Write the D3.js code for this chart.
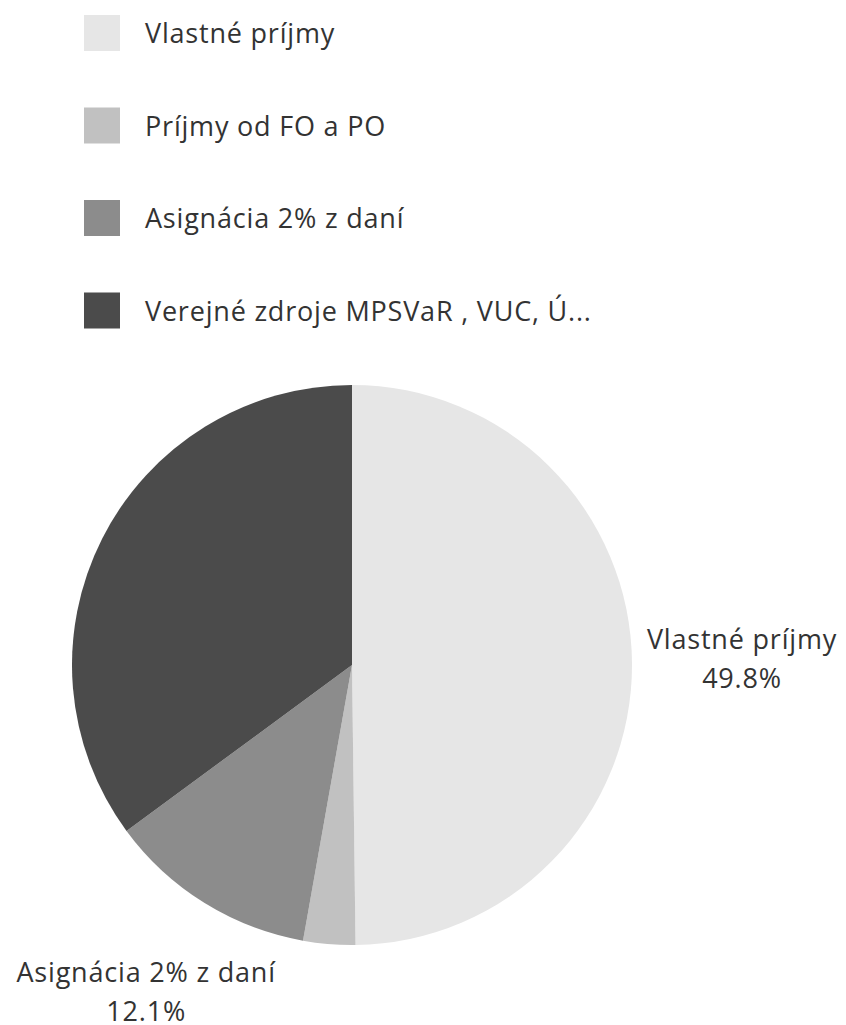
<!DOCTYPE html>
<html>
<head>
<meta charset="utf-8">
<script src="https://cdn.jsdelivr.net/npm/d3@7"></script>
<style>
  html, body { margin: 0; padding: 0; background: #ffffff; }
  svg text { font-family: "Open Sans", Lato, sans-serif; fill: #333333; letter-spacing: 0.8px; }
</style>
</head>
<body>
<svg id="chart" width="846" height="1025"></svg>
<script>
// Data
const categories = ["Vlastné príjmy", "Príjmy od FO a PO", "Asignácia 2% z daní", "Verejné zdroje MPSVaR , VUC, Ú..."];
const values = [49.8, 3.0, 12.1, 35.1];
const colors = ["#e6e6e6", "#c1c1c1", "#8c8c8c", "#4b4b4b"];
const labelledSlices = ["Vlastné príjmy", "Asignácia 2% z daní"];

const svg = d3.select("#chart");
const cx = 352, cy = 665, radius = 280, labelRadius = 390;
const fontSize = 27;

const color = d3.scaleOrdinal().domain(categories).range(colors);

// Legend
const legend = svg.append("g").attr("transform", "translate(84,15)");
const rows = legend.selectAll("g.row").data(categories).enter().append("g")
  .attr("class", "row")
  .attr("transform", (d, i) => `translate(0,${i * 92.5})`);
rows.append("rect").attr("width", 36).attr("height", 36).attr("fill", d => color(d));
rows.append("text").attr("x", 61).attr("y", 28).attr("font-size", fontSize).text(d => d);

// Pie
const data = categories.map((c, i) => ({ name: c, value: values[i] }));
const pie = d3.pie().value(d => d.value).sort(null);
const arc = d3.arc().innerRadius(0).outerRadius(radius);
const labelArc = d3.arc().innerRadius(labelRadius).outerRadius(labelRadius);

const g = svg.append("g").attr("transform", `translate(${cx},${cy})`);
const arcs = pie(data);
g.selectAll("path").data(arcs).enter().append("path")
  .attr("d", arc)
  .attr("fill", d => color(d.data.name));

const labels = g.selectAll("g.lbl").data(arcs.filter(d => labelledSlices.includes(d.data.name)))
  .enter().append("g").attr("class", "lbl")
  .attr("transform", d => `translate(${labelArc.centroid(d)})`);
labels.append("text").attr("text-anchor", "middle").attr("y", -14).attr("font-size", fontSize)
  .text(d => d.data.name);
labels.append("text").attr("text-anchor", "middle").attr("y", 25).attr("font-size", fontSize)
  .text(d => d3.format(".1f")(d.data.value) + "%");
</script>
</body>
</html>
